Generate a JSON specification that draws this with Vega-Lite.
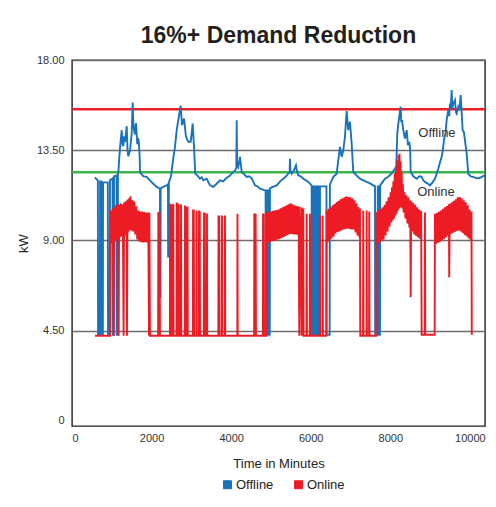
{
"$schema":"https://vega.github.io/schema/vega-lite/v6.json",
"width":413,"height":366,
"autosize":"none",
"padding":{"left":72,"top":60,"right":11,"bottom":81},
"background":"white",
"config":{"view":{"stroke":"#222","strokeWidth":1.4},"font":"Liberation Sans"},
"title":{"text":"16%+ Demand Reduction","fontSize":23,"font":"Liberation Sans","fontWeight":"bold","anchor":"middle","offset":6,"color":"#231f20"},
"datasets":{
"off":[{"t":578,"v":12.15},{"t":620,"v":12.05},{"t":650,"v":12.0},{"t":655,"v":4.3},{"t":700,"v":4.3},{"t":705,"v":11.95},{"t":742,"v":11.95},{"t":746,"v":4.3},{"t":776,"v":4.3},{"t":780,"v":11.9},{"t":900,"v":11.9},{"t":905,"v":4.3},{"t":950,"v":4.3},{"t":955,"v":12.0},{"t":1020,"v":12.1},{"t":1024,"v":4.3},{"t":1052,"v":4.3},{"t":1056,"v":12.2},{"t":1120,"v":12.25},{"t":1124,"v":4.3},{"t":1150,"v":4.3},{"t":1155,"v":12.4},{"t":1169,"v":12.5},{"t":1190,"v":13.2},{"t":1206,"v":13.6},{"t":1249,"v":14.5},{"t":1270,"v":13.8},{"t":1289,"v":13.7},{"t":1310,"v":14.2},{"t":1332,"v":13.9},{"t":1375,"v":14.7},{"t":1395,"v":13.5},{"t":1415,"v":13.2},{"t":1458,"v":13.5},{"t":1480,"v":13.9},{"t":1499,"v":14.3},{"t":1525,"v":15.88},{"t":1540,"v":14.9},{"t":1558,"v":14.5},{"t":1580,"v":14.3},{"t":1608,"v":14.85},{"t":1641,"v":13.8},{"t":1660,"v":14.1},{"t":1676,"v":14.0},{"t":1700,"v":13.2},{"t":1709,"v":12.4},{"t":1752,"v":12.3},{"t":1800,"v":12.2},{"t":1877,"v":12.17},{"t":1960,"v":12.0},{"t":2043,"v":11.83},{"t":2129,"v":11.67},{"t":2211,"v":11.58},{"t":2216,"v":6.2},{"t":2224,"v":6.2},{"t":2228,"v":11.6},{"t":2294,"v":11.67},{"t":2380,"v":11.75},{"t":2412,"v":11.8},{"t":2416,"v":8.2},{"t":2430,"v":8.2},{"t":2434,"v":11.9},{"t":2488,"v":12.2},{"t":2538,"v":13.0},{"t":2588,"v":13.67},{"t":2631,"v":14.5},{"t":2671,"v":15.0},{"t":2732,"v":15.72},{"t":2764,"v":14.75},{"t":2815,"v":15.08},{"t":2865,"v":14.17},{"t":2923,"v":13.92},{"t":2983,"v":13.92},{"t":3033,"v":14.83},{"t":3066,"v":13.67},{"t":3099,"v":12.33},{"t":3150,"v":12.25},{"t":3217,"v":12.08},{"t":3260,"v":12.15},{"t":3300,"v":12.0},{"t":3385,"v":12.08},{"t":3430,"v":11.9},{"t":3468,"v":11.75},{"t":3551,"v":11.67},{"t":3636,"v":11.83},{"t":3719,"v":12.0},{"t":3800,"v":11.95},{"t":3888,"v":12.13},{"t":3950,"v":12.2},{"t":4013,"v":12.33},{"t":4096,"v":12.5},{"t":4130,"v":12.6},{"t":4139,"v":15.0},{"t":4150,"v":12.8},{"t":4179,"v":12.67},{"t":4222,"v":13.17},{"t":4265,"v":12.42},{"t":4330,"v":12.3},{"t":4390,"v":12.17},{"t":4450,"v":12.2},{"t":4516,"v":12.1},{"t":4599,"v":11.75},{"t":4660,"v":11.7},{"t":4724,"v":11.58},{"t":4850,"v":11.5},{"t":4866,"v":11.5},{"t":4870,"v":4.3},{"t":4900,"v":4.3},{"t":4905,"v":11.5},{"t":4930,"v":11.5},{"t":4935,"v":4.3},{"t":4970,"v":4.3},{"t":4975,"v":11.6},{"t":5018,"v":11.65},{"t":5080,"v":11.7},{"t":5144,"v":11.75},{"t":5230,"v":11.95},{"t":5310,"v":12.08},{"t":5380,"v":12.2},{"t":5436,"v":12.33},{"t":5470,"v":12.4},{"t":5478,"v":13.08},{"t":5490,"v":12.5},{"t":5521,"v":12.33},{"t":5579,"v":12.5},{"t":5629,"v":12.75},{"t":5650,"v":12.5},{"t":5687,"v":12.25},{"t":5750,"v":12.2},{"t":5813,"v":12.08},{"t":5880,"v":12.0},{"t":5938,"v":11.92},{"t":6023,"v":11.75},{"t":6031,"v":4.3},{"t":6065,"v":4.3},{"t":6070,"v":11.7},{"t":6105,"v":11.7},{"t":6110,"v":4.3},{"t":6145,"v":4.3},{"t":6150,"v":11.7},{"t":6185,"v":11.7},{"t":6190,"v":4.3},{"t":6228,"v":4.3},{"t":6233,"v":11.7},{"t":6395,"v":11.7},{"t":6400,"v":4.3},{"t":6475,"v":4.3},{"t":6482,"v":11.8},{"t":6567,"v":12.17},{"t":6652,"v":12.33},{"t":6692,"v":13.0},{"t":6735,"v":13.67},{"t":6778,"v":13.17},{"t":6818,"v":13.5},{"t":6860,"v":14.17},{"t":6903,"v":15.45},{"t":6943,"v":14.5},{"t":6986,"v":14.92},{"t":7029,"v":13.83},{"t":7069,"v":12.42},{"t":7150,"v":12.25},{"t":7237,"v":12.08},{"t":7320,"v":12.0},{"t":7406,"v":11.92},{"t":7490,"v":11.85},{"t":7572,"v":11.75},{"t":7615,"v":11.7},{"t":7620,"v":4.3},{"t":7680,"v":4.3},{"t":7685,"v":11.7},{"t":7700,"v":11.7},{"t":7705,"v":4.3},{"t":7740,"v":4.3},{"t":7745,"v":11.75},{"t":7800,"v":11.9},{"t":7866,"v":12.08},{"t":7930,"v":12.15},{"t":7991,"v":12.25},{"t":8050,"v":12.4},{"t":8117,"v":12.58},{"t":8150,"v":12.7},{"t":8175,"v":14.33},{"t":8200,"v":14.8},{"t":8225,"v":15.17},{"t":8260,"v":15.67},{"t":8275,"v":14.9},{"t":8293,"v":15.0},{"t":8326,"v":14.5},{"t":8368,"v":14.08},{"t":8411,"v":14.5},{"t":8444,"v":13.75},{"t":8476,"v":13.92},{"t":8500,"v":13.5},{"t":8512,"v":12.42},{"t":8580,"v":12.2},{"t":8662,"v":12.08},{"t":8730,"v":12.2},{"t":8788,"v":12.17},{"t":8830,"v":12.0},{"t":8871,"v":11.92},{"t":8930,"v":11.85},{"t":8997,"v":11.75},{"t":9060,"v":11.9},{"t":9122,"v":12.08},{"t":9160,"v":12.3},{"t":9205,"v":12.58},{"t":9250,"v":12.9},{"t":9291,"v":13.17},{"t":9320,"v":13.5},{"t":9348,"v":14.0},{"t":9390,"v":14.4},{"t":9416,"v":15.0},{"t":9456,"v":15.5},{"t":9480,"v":15.2},{"t":9499,"v":15.83},{"t":9520,"v":15.6},{"t":9542,"v":16.5},{"t":9560,"v":15.6},{"t":9582,"v":15.83},{"t":9625,"v":16.0},{"t":9650,"v":15.4},{"t":9668,"v":15.33},{"t":9708,"v":15.67},{"t":9740,"v":15.5},{"t":9768,"v":16.25},{"t":9790,"v":15.5},{"t":9818,"v":14.5},{"t":9850,"v":14.4},{"t":9876,"v":14.0},{"t":9919,"v":13.33},{"t":9959,"v":12.33},{"t":10020,"v":12.2},{"t":10085,"v":12.17},{"t":10170,"v":12.1},{"t":10253,"v":12.13},{"t":10320,"v":12.2},{"t":10375,"v":12.25}],
"on":[{"t":578,"v":4.25},{"t":960,"v":4.25},{"t":975,"v":10.5},{"t":1000,"v":8.85},{"t":1025,"v":10.6},{"t":1048,"v":4.25},{"t":1060,"v":10.65},{"t":1075,"v":8.95},{"t":1100,"v":10.75},{"t":1125,"v":9.0},{"t":1150,"v":10.8},{"t":1173,"v":4.25},{"t":1185,"v":10.8},{"t":1200,"v":9.15},{"t":1225,"v":10.85},{"t":1250,"v":9.2},{"t":1275,"v":10.8},{"t":1297,"v":4.25},{"t":1310,"v":10.9},{"t":1325,"v":9.25},{"t":1350,"v":10.95},{"t":1375,"v":9.35},{"t":1382,"v":4.25},{"t":1395,"v":11.05},{"t":1410,"v":9.4},{"t":1435,"v":11.1},{"t":1458,"v":9.5},{"t":1470,"v":11.2},{"t":1490,"v":9.5},{"t":1515,"v":11.0},{"t":1540,"v":9.45},{"t":1565,"v":10.95},{"t":1590,"v":9.3},{"t":1615,"v":10.7},{"t":1640,"v":9.05},{"t":1665,"v":10.5},{"t":1690,"v":8.95},{"t":1715,"v":10.45},{"t":1740,"v":8.92},{"t":1765,"v":10.45},{"t":1790,"v":8.9},{"t":1815,"v":10.42},{"t":1840,"v":8.92},{"t":1865,"v":10.4},{"t":1890,"v":8.9},{"t":1915,"v":10.4},{"t":1935,"v":4.25},{"t":1945,"v":10.38},{"t":1960,"v":4.25},{"t":2165,"v":4.25},{"t":2170,"v":10.42},{"t":2190,"v":4.25},{"t":2200,"v":10.4},{"t":2211,"v":4.25},{"t":2460,"v":4.25},{"t":2465,"v":10.83},{"t":2475,"v":4.3},{"t":2485,"v":10.8},{"t":2495,"v":4.25},{"t":2525,"v":4.25},{"t":2530,"v":10.83},{"t":2540,"v":4.25},{"t":2546,"v":10.8},{"t":2552,"v":4.25},{"t":2625,"v":4.25},{"t":2630,"v":10.9},{"t":2638,"v":4.25},{"t":2660,"v":4.25},{"t":2665,"v":10.85},{"t":2675,"v":4.25},{"t":2685,"v":10.8},{"t":2692,"v":4.25},{"t":2735,"v":4.25},{"t":2740,"v":10.8},{"t":2746,"v":4.25},{"t":2835,"v":4.25},{"t":2840,"v":10.75},{"t":2850,"v":4.25},{"t":2860,"v":10.7},{"t":2868,"v":4.25},{"t":2898,"v":4.25},{"t":2903,"v":10.7},{"t":2910,"v":4.25},{"t":3038,"v":4.25},{"t":3042,"v":10.55},{"t":3052,"v":4.25},{"t":3062,"v":10.55},{"t":3068,"v":4.25},{"t":3125,"v":4.25},{"t":3130,"v":10.5},{"t":3136,"v":4.25},{"t":3188,"v":4.25},{"t":3192,"v":10.5},{"t":3202,"v":4.25},{"t":3212,"v":10.45},{"t":3218,"v":4.25},{"t":3314,"v":4.25},{"t":3318,"v":10.4},{"t":3328,"v":4.25},{"t":3338,"v":10.38},{"t":3344,"v":4.25},{"t":3388,"v":4.25},{"t":3392,"v":10.35},{"t":3398,"v":4.25},{"t":3678,"v":4.25},{"t":3682,"v":10.25},{"t":3692,"v":4.25},{"t":3702,"v":10.25},{"t":3708,"v":4.25},{"t":3766,"v":4.25},{"t":3770,"v":10.25},{"t":3776,"v":4.25},{"t":3841,"v":4.25},{"t":3845,"v":10.25},{"t":3851,"v":4.25},{"t":4155,"v":4.25},{"t":4159,"v":10.33},{"t":4165,"v":4.25},{"t":4578,"v":4.25},{"t":4582,"v":10.35},{"t":4595,"v":4.25},{"t":4615,"v":10.35},{"t":4624,"v":4.25},{"t":4797,"v":4.25},{"t":4801,"v":10.35},{"t":4810,"v":4.25},{"t":4820,"v":10.33},{"t":4826,"v":4.25},{"t":4890,"v":4.25},{"t":4895,"v":10.45},{"t":4920,"v":8.9},{"t":4945,"v":10.4},{"t":4970,"v":8.92},{"t":4995,"v":10.45},{"t":5020,"v":8.95},{"t":5045,"v":10.48},{"t":5070,"v":8.98},{"t":5095,"v":10.5},{"t":5120,"v":9.0},{"t":5145,"v":10.52},{"t":5170,"v":9.05},{"t":5195,"v":10.55},{"t":5220,"v":9.08},{"t":5245,"v":10.6},{"t":5270,"v":9.12},{"t":5295,"v":10.65},{"t":5320,"v":9.18},{"t":5345,"v":10.7},{"t":5370,"v":9.22},{"t":5395,"v":10.75},{"t":5420,"v":9.28},{"t":5445,"v":10.8},{"t":5470,"v":9.33},{"t":5495,"v":10.85},{"t":5520,"v":9.33},{"t":5545,"v":10.8},{"t":5570,"v":9.3},{"t":5595,"v":10.75},{"t":5620,"v":9.3},{"t":5645,"v":10.72},{"t":5670,"v":9.28},{"t":5695,"v":10.7},{"t":5712,"v":4.25},{"t":5722,"v":10.68},{"t":5745,"v":9.25},{"t":5771,"v":4.25},{"t":5780,"v":10.65},{"t":5795,"v":9.2},{"t":5813,"v":10.6},{"t":5820,"v":4.25},{"t":5893,"v":4.25},{"t":5898,"v":10.33},{"t":5905,"v":4.25},{"t":5976,"v":4.25},{"t":5981,"v":10.33},{"t":5988,"v":4.25},{"t":6228,"v":4.25},{"t":6232,"v":10.25},{"t":6238,"v":4.25},{"t":6295,"v":4.25},{"t":6300,"v":10.25},{"t":6306,"v":4.25},{"t":6390,"v":4.25},{"t":6400,"v":10.5},{"t":6425,"v":8.92},{"t":6450,"v":10.58},{"t":6475,"v":9.0},{"t":6500,"v":10.65},{"t":6525,"v":9.1},{"t":6550,"v":10.75},{"t":6575,"v":9.2},{"t":6600,"v":10.82},{"t":6625,"v":9.35},{"t":6650,"v":10.92},{"t":6675,"v":9.42},{"t":6700,"v":10.98},{"t":6725,"v":9.45},{"t":6750,"v":11.05},{"t":6775,"v":9.5},{"t":6800,"v":11.1},{"t":6825,"v":9.55},{"t":6850,"v":11.15},{"t":6875,"v":9.58},{"t":6900,"v":11.2},{"t":6925,"v":9.6},{"t":6950,"v":11.17},{"t":6975,"v":9.58},{"t":7000,"v":11.15},{"t":7025,"v":9.55},{"t":7050,"v":11.1},{"t":7075,"v":9.55},{"t":7100,"v":11.0},{"t":7125,"v":9.4},{"t":7150,"v":10.85},{"t":7175,"v":9.25},{"t":7200,"v":10.67},{"t":7225,"v":9.15},{"t":7237,"v":10.6},{"t":7245,"v":4.25},{"t":7315,"v":4.25},{"t":7320,"v":10.5},{"t":7326,"v":4.25},{"t":7401,"v":4.25},{"t":7406,"v":10.5},{"t":7412,"v":4.25},{"t":7466,"v":4.25},{"t":7471,"v":10.45},{"t":7477,"v":4.25},{"t":7650,"v":4.25},{"t":7657,"v":10.42},{"t":7682,"v":8.83},{"t":7707,"v":10.5},{"t":7732,"v":8.9},{"t":7757,"v":10.58},{"t":7782,"v":8.98},{"t":7807,"v":10.65},{"t":7832,"v":9.05},{"t":7857,"v":10.78},{"t":7882,"v":9.25},{"t":7907,"v":10.95},{"t":7932,"v":9.45},{"t":7957,"v":11.15},{"t":7982,"v":9.7},{"t":8007,"v":11.4},{"t":8025,"v":9.9},{"t":8042,"v":11.65},{"t":8060,"v":10.0},{"t":8077,"v":11.95},{"t":8095,"v":10.1},{"t":8112,"v":12.35},{"t":8130,"v":10.25},{"t":8147,"v":12.7},{"t":8162,"v":10.35},{"t":8177,"v":13.0},{"t":8192,"v":10.5},{"t":8207,"v":13.25},{"t":8220,"v":10.6},{"t":8232,"v":13.33},{"t":8245,"v":10.65},{"t":8258,"v":12.95},{"t":8272,"v":10.67},{"t":8286,"v":12.4},{"t":8300,"v":10.6},{"t":8315,"v":11.8},{"t":8335,"v":10.4},{"t":8355,"v":11.4},{"t":8380,"v":10.1},{"t":8405,"v":11.25},{"t":8430,"v":9.85},{"t":8455,"v":11.15},{"t":8480,"v":9.65},{"t":8500,"v":11.0},{"t":8512,"v":6.17},{"t":8525,"v":10.95},{"t":8550,"v":9.45},{"t":8575,"v":10.88},{"t":8600,"v":9.3},{"t":8625,"v":10.78},{"t":8650,"v":9.22},{"t":8675,"v":10.65},{"t":8700,"v":9.15},{"t":8725,"v":10.55},{"t":8750,"v":9.08},{"t":8775,"v":10.48},{"t":8788,"v":4.3},{"t":8866,"v":4.3},{"t":8871,"v":10.4},{"t":8878,"v":4.3},{"t":9115,"v":4.3},{"t":9122,"v":10.33},{"t":9147,"v":8.83},{"t":9172,"v":10.38},{"t":9197,"v":8.88},{"t":9222,"v":10.43},{"t":9247,"v":8.93},{"t":9272,"v":10.5},{"t":9297,"v":9.0},{"t":9322,"v":10.58},{"t":9347,"v":9.08},{"t":9372,"v":10.65},{"t":9397,"v":9.15},{"t":9422,"v":10.72},{"t":9447,"v":9.25},{"t":9472,"v":10.8},{"t":9481,"v":7.17},{"t":9495,"v":10.83},{"t":9520,"v":9.33},{"t":9545,"v":10.9},{"t":9570,"v":9.38},{"t":9595,"v":10.98},{"t":9620,"v":9.42},{"t":9645,"v":11.05},{"t":9670,"v":9.48},{"t":9695,"v":11.15},{"t":9720,"v":9.5},{"t":9745,"v":11.17},{"t":9770,"v":9.45},{"t":9795,"v":11.1},{"t":9820,"v":9.38},{"t":9845,"v":11.0},{"t":9870,"v":9.28},{"t":9895,"v":10.9},{"t":9920,"v":9.2},{"t":9945,"v":10.75},{"t":9970,"v":9.1},{"t":9995,"v":10.55},{"t":10020,"v":9.0},{"t":10040,"v":10.45},{"t":10048,"v":4.3}]
},
"layer":[
{"data":{"values":[{}]},"mark":{"type":"rule","color":"#e8202a","strokeWidth":2.5},"encoding":{"y":{"datum":15.55,"type":"quantitative","scale":{"domain":[-0.25,18],"nice":false,"zero":false},
 "axis":{"values":[0,4.5,9,13.5,18],"labelExpr":"datum.value == 0 ? '0' : format(datum.value, '.2f')","title":"kW","grid":true,"gridColor":{"condition":{"test":"datum.value == 0","value":"transparent"},"value":"#6d6d6d"},"gridWidth":1.3,"ticks":false,"domain":false,"labelPadding":8,"labelFontSize":11,"labelColor":"#333","labelFont":"Liberation Sans","titleFont":"Liberation Sans","titleFontSize":13,"titleFontWeight":"normal","titleColor":"#222","titlePadding":6}}}},
{"data":{"values":[{}]},"mark":{"type":"rule","color":"#3ab54a","strokeWidth":2.5},"encoding":{"y":{"datum":12.4,"type":"quantitative"}}},
{"data":{"name":"off"},"mark":{"type":"line","strokeWidth":1.9,"clip":true},
 "encoding":{"x":{"field":"t","type":"quantitative","scale":{"domain":[0,10380],"nice":false,"zero":false},
   "axis":{"values":[0,2000,4000,6000,8000,10000],"format":"d","title":"Time in Minutes","grid":false,"ticks":false,"domain":false,"labelPadding":6,"labelFontSize":11,"labelColor":"#333","labelFont":"Liberation Sans","titleFont":"Liberation Sans","titleFontSize":13,"titleFontWeight":"normal","titleColor":"#222","titlePadding":14}},
  "y":{"field":"v","type":"quantitative"},
  "color":{"datum":"Offline","scale":{"domain":["Offline","Online"],"range":["#1a73ba","#ed1c24"]},
   "legend":{"title":null,"orient":"none","legendX":149,"legendY":418,"direction":"horizontal","symbolType":"square","symbolSize":64,"symbolStrokeWidth":1,"labelFontSize":13,"labelFont":"Liberation Sans","labelColor":"#222","labelOffset":2,"columnPadding":18,"padding":0,
    "encode":{"symbols":{"update":{"fill":{"scale":"color","field":"value"},"stroke":{"value":"#0d3f66"},"fillOpacity":{"value":1}}}}}}}},
{"data":{"name":"on"},"mark":{"type":"line","strokeWidth":1.9,"clip":true},
 "encoding":{"x":{"field":"t","type":"quantitative"},"y":{"field":"v","type":"quantitative"},"color":{"datum":"Online"}}},
{"data":{"values":[{}]},"mark":{"type":"text","font":"Liberation Sans","fontSize":13,"color":"#333"},"encoding":{"x":{"datum":9172,"type":"quantitative"},"y":{"datum":14.36,"type":"quantitative"},"text":{"value":"Offline"}}},
{"data":{"values":[{}]},"mark":{"type":"text","font":"Liberation Sans","fontSize":13,"color":"#333"},"encoding":{"x":{"datum":9147,"type":"quantitative"},"y":{"datum":11.42,"type":"quantitative"},"text":{"value":"Online"}}}
]
}
